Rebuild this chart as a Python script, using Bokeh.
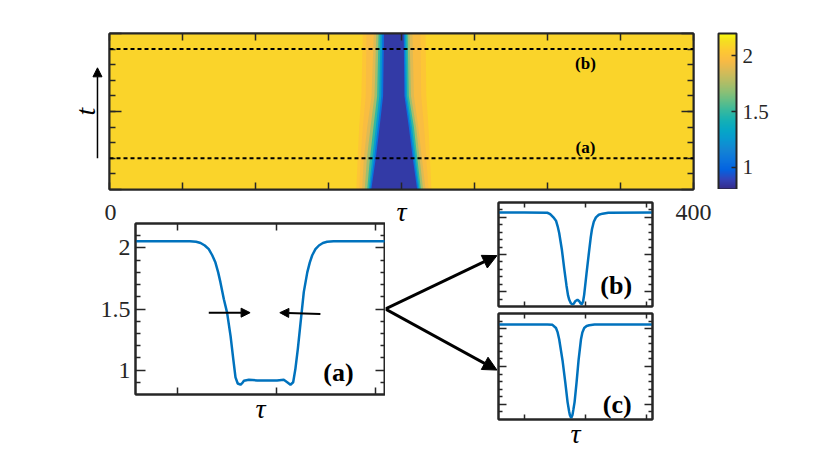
import numpy as np
from bokeh.plotting import figure
from bokeh.models import (LinearColorMapper, ColorBar, FixedTicker, LinearAxis,
                          Range1d, Span, Arrow, NormalHead, Label, ColumnDataSource)
from bokeh.layouts import column, row
from bokeh.embed import file_html
from bokeh.resources import INLINE

# ---------------- data ----------------
tau_range = [0, 400]
t_range = [0, 10]
cut_times = [2, 9]
cut_names = ["(a)", "(b)"]
cut_label_t = [2.7, 8.1]

# heatmap |psi|(tau, t) described as nested level bands (edges read at rows t_rows)
t_rows = [0, 2, 4, 6, 10]
background_value = 2.09
band_values = [2.03, 1.97, 1.88, 1.72, 1.50, 1.28, 1.05, 0.86]
band_left = [
    [169.0, 170.0, 171.0, 172.5, 173.5],
    [171.0, 172.0, 173.5, 175.5, 176.0],
    [173.0, 174.2, 176.5, 179.5, 181.0],
    [174.8, 176.3, 178.8, 181.5, 182.7],
    [176.5, 178.4, 180.8, 183.3, 184.3],
    [177.6, 180.0, 182.4, 184.8, 185.6],
    [178.4, 181.3, 183.8, 186.2, 186.8],
    [179.3, 182.4, 185.0, 187.4, 188.0],
]
band_right = [
    [220.5, 219.5, 218.5, 217.0, 216.5],
    [218.5, 217.0, 215.5, 213.5, 213.0],
    [216.5, 214.0, 211.5, 208.5, 207.5],
    [214.8, 212.4, 210.0, 206.5, 205.5],
    [213.3, 210.8, 208.5, 205.0, 204.2],
    [212.3, 209.7, 207.2, 203.8, 203.2],
    [211.5, 208.6, 206.0, 202.8, 202.2],
    [210.7, 207.7, 205.0, 202.0, 201.5],
]

# profile (a): cut at t = 2
tau_a = [143, 160, 165, 167.5, 169.3, 171.0, 172.6, 174.0, 175.3, 176.4, 177.3, 178.7,
         180.0, 181.4, 182.5, 183.4, 184.3, 185.4, 186.2, 186.8, 188.8, 192.2, 196.2,
         200.2, 202.9, 204.3, 205.6, 206.7, 207.6, 208.6, 209.7, 211.0, 212.4, 213.4,
         214.4, 215.7, 217.1, 218.7, 220.4, 223.0, 225.8, 244]
u_a = [2.055, 2.055, 2.054, 2.05, 2.04, 2.02, 1.99, 1.94, 1.88, 1.80, 1.72, 1.58,
       1.47, 1.28, 1.09, 0.94, 0.89, 0.88, 0.895, 0.912, 0.92, 0.915, 0.915,
       0.915, 0.92, 0.90, 0.88, 0.90, 1.01, 1.175, 1.39, 1.64, 1.80, 1.88,
       1.94, 1.99, 2.02, 2.04, 2.05, 2.054, 2.055, 2.055]

# profile (b): cut at t = 9
tau_b = [143, 160, 175.0, 176.3, 177.4, 179.0, 180.7, 181.8, 182.8, 184.6, 186.1, 187.6,
         188.6, 189.4, 190.3, 191.2, 192.3, 193.3, 194.8, 196.0, 196.9, 197.7, 198.5,
         199.2, 200.7, 202.5, 203.5, 204.3, 205.5, 206.9, 208.8, 211.2, 215.0, 244]
u_b = [2.065, 2.065, 2.062, 2.05, 2.034, 2.0, 1.955, 1.88, 1.79, 1.56, 1.31, 1.08,
       0.95, 0.89, 0.85, 0.83, 0.835, 0.87, 0.89, 0.87, 0.84, 0.83, 0.87,
       0.96, 1.24, 1.56, 1.73, 1.84, 1.94, 2.00, 2.035, 2.05, 2.062, 2.065]

# profile (c)
tau_c = [143, 175, 178.4, 180.7, 181.8, 182.8, 185.0, 186.8, 188.3, 189.3, 189.8, 190.7,
         191.5, 192.1, 192.9, 194.2, 195.5, 197.1, 198.0, 199.2, 200.8, 202.5, 206.0, 244]
u_c = [2.055, 2.054, 2.05, 2.008, 1.95, 1.86, 1.58, 1.29, 1.03, 0.91, 0.86, 0.82,
       0.86, 0.93, 1.03, 1.29, 1.58, 1.86, 1.95, 2.008, 2.035, 2.045, 2.054, 2.055]

u_range = [0.8, 2.2]
u_ticks = [1, 1.5, 2]
u_minor = [0.9, 1.1, 1.2, 1.3, 1.4, 1.6, 1.7, 1.8, 1.9, 2.1]
tau_zoom = [143, 244]
tau_zoom_ticks = [160, 200, 240]

# ---------------- style ----------------
AX = "#262626"
BLUE = "#0072BD"
SERIF = "Liberation Serif"

parula_keys = [
    (0.2081, 0.1663, 0.5292), (0.1959, 0.2645, 0.7279), (0.0117, 0.3875, 0.8820),
    (0.0498, 0.4586, 0.8641), (0.0793, 0.5200, 0.8312), (0.0343, 0.5966, 0.8199),
    (0.0228, 0.6535, 0.7768), (0.0843, 0.6928, 0.7062), (0.2178, 0.7250, 0.6193),
    (0.3953, 0.7459, 0.5244), (0.5709, 0.7485, 0.4494), (0.7184, 0.7411, 0.3905),
    (0.8507, 0.7299, 0.3360), (0.9739, 0.7314, 0.2666), (0.9955, 0.7861, 0.1967),
    (0.9626, 0.8705, 0.1309), (0.9763, 0.9831, 0.0538)]
key_pos = [0, 4, 8, 12, 16, 20, 24, 28, 32, 36, 40, 44, 48, 52, 56, 60, 63]
kp = np.array(key_pos) / 63.0
kc = np.array(parula_keys)
s = np.linspace(0, 1, 256)
palette = ["#%02x%02x%02x" % tuple(int(round(255 * np.interp(v, kp, kc[:, j]))) for j in range(3))
           for v in s]
mapper = LinearColorMapper(palette=palette, low=u_range[0], high=u_range[1])


def style_axis(ax, tick_in, minor_in=0, labels=False, size="24px", standoff=0):
    ax.axis_line_color = AX
    ax.axis_line_width = 2
    ax.major_tick_in = tick_in
    ax.major_tick_out = 0
    ax.minor_tick_in = minor_in
    ax.minor_tick_out = 0
    ax.major_tick_line_color = AX
    ax.major_tick_line_width = 1.5
    ax.minor_tick_line_color = AX if minor_in else None
    ax.minor_tick_line_width = 1.5
    ax.major_label_text_font = SERIF
    ax.axis_label_text_font = SERIF
    ax.axis_label_text_font_style = "italic"
    ax.axis_label_text_font_size = "28px"
    ax.axis_label_text_color = "black"
    if labels:
        ax.major_label_text_font_size = size
        ax.major_label_text_color = AX
    else:
        ax.major_label_text_font_size = "0px"
        ax.major_label_text_color = None
    ax.major_label_standoff = standoff


def bare(f):
    f.grid.visible = False
    f.border_fill_color = None
    f.background_fill_color = None
    f.outline_line_color = None


# ---------------- t-arrow strip (left of heatmap) ----------------
pt = figure(frame_width=26, frame_height=156, x_range=Range1d(0, 1),
            y_range=Range1d(*t_range), output_backend="svg", toolbar_location=None,
            min_border_left=70, min_border_top=25, min_border_bottom=0,
            min_border_right=0, x_axis_location=None, y_axis_location=None)
bare(pt)
pt.add_layout(Label(x=0.27, y=5.0, text="t", angle=np.pi / 2, text_font=SERIF,
                    text_font_style="italic", text_font_size="28px", text_color="black",
                    text_align="center", text_baseline="middle"))
pt.add_layout(Arrow(end=NormalHead(size=9, fill_color="black", line_color="black"),
                    x_start=0.73, y_start=2.0, x_end=0.73, y_end=7.8,
                    line_width=1.5, line_color="black"))

# ---------------- top heatmap ----------------
p = figure(frame_width=584, frame_height=156, x_range=Range1d(*tau_range),
           y_range=Range1d(*t_range), output_backend="svg", toolbar_location=None,
           min_border_left=5, min_border_top=25, min_border_bottom=50,
           min_border_right=24, x_axis_location=None, y_axis_location=None)
p.grid.visible = False
p.border_fill_color = None
p.outline_line_color = AX
p.outline_line_width = 2

bg_src = ColumnDataSource(dict(l=[tau_range[0]], r=[tau_range[1]], b=[t_range[0]],
                               t=[t_range[1]], v=[background_value]))
p.quad(left="l", right="r", bottom="b", top="t", source=bg_src,
       fill_color={"field": "v", "transform": mapper}, line_color=None)
xs = [L + R[::-1] for L, R in zip(band_left, band_right)]
ys = [t_rows + t_rows[::-1] for _ in band_left]
p.patches(xs="xs", ys="ys", source=ColumnDataSource(dict(xs=xs, ys=ys, v=band_values)),
          fill_color={"field": "v", "transform": mapper}, line_color=None)

bx = LinearAxis(ticker=FixedTicker(ticks=[0, 400], minor_ticks=list(range(50, 400, 50))))
style_axis(bx, 7, 7, labels=True, size="24px", standoff=15)
bx.axis_label = "τ"
bx.axis_label_standoff = -27
p.add_layout(bx, "below")
ax_top = LinearAxis(ticker=FixedTicker(ticks=[0, 400], minor_ticks=list(range(50, 400, 50))))
style_axis(ax_top, 7, 7)
p.add_layout(ax_top, "above")
ly = LinearAxis(ticker=FixedTicker(ticks=[0, 5, 10], minor_ticks=list(range(1, 10))))
style_axis(ly, 12, 6)
p.add_layout(ly, "left")
ry = LinearAxis(ticker=FixedTicker(ticks=[0, 5, 10], minor_ticks=list(range(1, 10))))
style_axis(ry, 12, 6)
p.add_layout(ry, "right")

for tc in cut_times:
    p.add_layout(Span(location=tc, dimension="width", line_color="black",
                      line_width=2, line_dash="4 3"))
for tl, nm in zip(cut_label_t, cut_names):
    p.add_layout(Label(x=326, y=tl, text=nm, text_font=SERIF, text_font_style="bold",
                       text_font_size="17px", text_color="black",
                       text_align="center", text_baseline="middle"))

# colour bar in its own narrow strip, right of the heatmap
pcb = figure(frame_width=1, frame_height=156, x_range=Range1d(0, 1),
             y_range=Range1d(*t_range), output_backend="svg", toolbar_location=None,
             min_border_left=0, min_border_top=25, min_border_bottom=0,
             min_border_right=0, x_axis_location=None, y_axis_location=None)
bare(pcb)
cb = ColorBar(color_mapper=mapper, width=18, padding=0, margin=0,
              ticker=FixedTicker(ticks=u_ticks),
              major_label_overrides={1: "1", 1.5: "1.5", 2: "2"},
              major_label_text_font=SERIF, major_label_text_font_size="21px",
              major_label_text_color=AX, major_tick_in=5, major_tick_out=0,
              major_tick_line_color=AX, major_tick_line_width=1.5,
              bar_line_color=AX, bar_line_width=2, border_line_color=None,
              background_fill_color=None, label_standoff=6)
pcb.add_layout(cb, "right")


# ---------------- zoom panels ----------------
def panel(fw, fh, tau, u, left, top, right, bottom, minor_len, major_len,
          ylabels=False, xlabel=False):
    f = figure(frame_width=fw, frame_height=fh, x_range=Range1d(*tau_zoom),
               y_range=Range1d(*u_range), output_backend="svg", toolbar_location=None,
               min_border_left=left, min_border_top=top, min_border_right=right,
               min_border_bottom=bottom, x_axis_location=None, y_axis_location=None)
    f.grid.visible = False
    f.border_fill_color = None
    f.background_fill_color = "white"
    f.outline_line_color = AX
    f.outline_line_width = 2
    f.line(tau, u, line_color=BLUE, line_width=2.5)
    b = LinearAxis(ticker=FixedTicker(ticks=tau_zoom_ticks))
    style_axis(b, major_len - 3)
    if xlabel:
        b.axis_label = "τ"
        b.axis_label_standoff = -2
    f.add_layout(b, "below")
    a = LinearAxis(ticker=FixedTicker(ticks=tau_zoom_ticks))
    style_axis(a, major_len - 3)
    f.add_layout(a, "above")
    l = LinearAxis(ticker=FixedTicker(ticks=u_ticks, minor_ticks=u_minor))
    if ylabels:
        style_axis(l, major_len, minor_len, labels=True, size="24px", standoff=5)
        l.major_label_overrides = {1: "1", 1.5: "1.5", 2: "2"}
    else:
        style_axis(l, major_len, minor_len)
    f.add_layout(l, "left")
    r = LinearAxis(ticker=FixedTicker(ticks=u_ticks, minor_ticks=u_minor))
    style_axis(r, major_len, minor_len)
    f.add_layout(r, "right")
    return f


pa = panel(250, 171, tau_a, u_a, 127, 27, 0, 31, 5, 10, ylabels=True, xlabel=True)
pa.add_layout(Label(x=225, y=0.98, text="(a)", text_font=SERIF, text_font_style="bold",
                    text_font_size="26px", text_color="black",
                    text_align="center", text_baseline="middle"))
head_s = dict(fill_color="black", line_color="black")
pa.add_layout(Arrow(end=NormalHead(size=9, **head_s), x_start=172.6, y_start=1.47,
                    x_end=189.3, y_end=1.47, line_width=2))
pa.add_layout(Arrow(end=NormalHead(size=9, **head_s), x_start=217.7, y_start=1.46,
                    x_end=201.3, y_end=1.47, line_width=2))

# connector arrows from panel (a) to panels (b) and (c)
parr = figure(frame_width=112, frame_height=171, x_range=Range1d(0, 1),
              y_range=Range1d(*u_range), output_backend="svg", toolbar_location=None,
              min_border_left=0, min_border_top=27, min_border_right=0,
              min_border_bottom=31, x_axis_location=None, y_axis_location=None)
bare(parr)
parr.add_layout(Arrow(end=NormalHead(size=14, **head_s), x_start=0, y_start=1.5,
                      x_end=0.995, y_end=1.937, line_width=3))
parr.add_layout(Arrow(end=NormalHead(size=14, **head_s), x_start=0, y_start=1.5,
                      x_end=0.995, y_end=1.0, line_width=3))

pb = panel(154, 104, tau_b, u_b, 1, 6, 2, 3, 4, 8)
pb.add_layout(Label(x=220.2, y=1.08, text="(b)", text_font=SERIF, text_font_style="bold",
                    text_font_size="26px", text_color="black",
                    text_align="center", text_baseline="middle"))
pc = panel(154, 106, tau_c, u_c, 1, 4, 2, 24, 4, 8, xlabel=True)
pc.add_layout(Label(x=220.9, y=1.0, text="(c)", text_font=SERIF, text_font_style="bold",
                    text_font_size="26px", text_color="black",
                    text_align="center", text_baseline="middle"))

top = row(pt, p, pcb)
bottom = row(pa, parr, column(pb, pc), margin=(-43, 0, 0, 0))
layout = column(top, bottom, margin=(8, 0, 0, 8))

open("out.html", "w").write(file_html(layout, INLINE))
